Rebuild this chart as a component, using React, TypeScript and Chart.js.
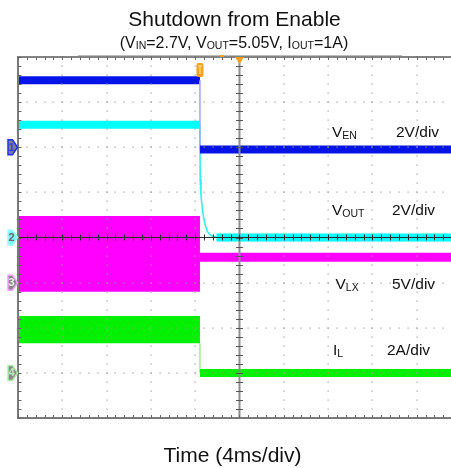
import { useEffect, useRef } from "react";
import { Chart, registerables } from "chart.js";

Chart.register(...registerables);

// ---- Axis settings (time in ms, 4 ms/div; vertical in divisions) ----
const T_START = -20;
const T_VIEW_END = 19.1;
const MS_PER_DIV = 4;
const X_DIVS = 10;
const Y_DIVS_HALF = 4;
const TRIGGER_MS = -3.57;

// channel ground offsets (div) and scales (units/div)
const CH_OFFSET = [2, 0, -1, -3];
const CH_SCALE = [2, 2, 5, 2];
const CH_NAMES = ["EN", "OUT", "LX", "L"];
const CH_SCALE_LABELS = ["2V/div", "2V/div", "5V/div", "2A/div"];

// ---- Channel 1: V_EN (V) ----
const venTime = [-20, -3.57, -3.57, 20];
const venVolts = [2.97, 2.97, -0.1, -0.1];

// ---- Channel 2: V_OUT (V) ----
const voutTime = [-20, -3.57, -3.55, -3.48, -3.39, -3.28, -3.16, -3.03, -2.89, -2.71, -2.44, -2.08, 20];
const voutVolts = [5.0, 5.0, 2.6, 1.9, 1.45, 1.0, 0.7, 0.45, 0.27, 0.14, 0.05, 0.0, 0.0];

// ---- Channel 3: V_LX (V) ----
const vlxBandTime = [-20, -3.57];
const vlxPeak = [7.38, 7.38];
const vlxValley = [-1.02, -1.02];
const vlxAfterTime = [-3.57, 20];
const vlxAfter = [2.82, 2.82];

// ---- Channel 4: I_L (A) ----
const ilBandTime = [-20, -3.57];
const ilPeak = [2.52, 2.52];
const ilValley = [1.31, 1.31];
const ilAfterTime = [-3.57, -3.57, 20];
const ilAfter = [1.31, 0, 0];

const BLUE = "#0414e8";
const CYAN = "#00ffff";
const MAGENTA = "#ff00ff";
const GREEN = "#00f000";

function series(times: number[], values: number[], ch: number) {
  return times.map((t, i) => ({ x: t, y: CH_OFFSET[ch] + values[i] / CH_SCALE[ch] }));
}

function levelSegments(thick: number, color: string, thinColor: string) {
  return {
    borderWidth: (c: any) => (c.p0.parsed.y === c.p1.parsed.y ? thick : 1.6),
    borderColor: (c: any) => (c.p0.parsed.y === c.p1.parsed.y ? color : thinColor),
  };
}

function drawParts(
  ctx: CanvasRenderingContext2D,
  parts: [string, boolean][],
  x: number,
  baseline: number,
  mainSize: number,
  subSize: number,
  subDrop: number,
  align: "left" | "center"
) {
  const font = (s: number) => `${s}px "Liberation Sans", Arial, sans-serif`;
  let total = 0;
  for (const [t, sub] of parts) {
    ctx.font = font(sub ? subSize : mainSize);
    total += ctx.measureText(t).width;
  }
  let cx = align === "center" ? x - total / 2 : x;
  ctx.textAlign = "left";
  ctx.textBaseline = "alphabetic";
  for (const [t, sub] of parts) {
    ctx.font = font(sub ? subSize : mainSize);
    ctx.fillText(t, cx, baseline + (sub ? subDrop : 0));
    cx += ctx.measureText(t).width;
  }
}

const scopePlugin = {
  id: "scopeGraticule",
  afterDatasetsDraw(chart: any) {
    const { ctx, chartArea: a, scales } = chart;
    const xs = scales.x;
    const ys = scales.y;
    ctx.save();

    // dotted grid
    ctx.fillStyle = "#9c9c9c";
    for (let k = 1; k < X_DIVS; k++) {
      if (k === 5) continue;
      const px = Math.round(xs.getPixelForValue(T_START + k * MS_PER_DIV));
      for (let m = 0; m <= Y_DIVS_HALF * 10; m++) {
        const py = Math.round(ys.getPixelForValue(-Y_DIVS_HALF + m * 0.2));
        ctx.fillRect(px - 0.5, py - 0.5, 1.2, 1.2);
      }
    }
    for (let d = -3; d <= 3; d++) {
      if (d === 0) continue;
      const py = Math.round(ys.getPixelForValue(d));
      for (let m = 0; m <= X_DIVS * 5; m++) {
        const px = Math.round(xs.getPixelForValue(T_START + m * MS_PER_DIV * 0.2));
        ctx.fillRect(px - 0.5, py - 0.5, 1.2, 1.2);
      }
    }

    // center vertical axis
    const cx0 = xs.getPixelForValue(0);
    ctx.strokeStyle = "#8e8e8e";
    ctx.lineWidth = 2;
    ctx.beginPath();
    ctx.moveTo(cx0, a.top);
    ctx.lineTo(cx0, a.bottom);
    ctx.stroke();
    ctx.strokeStyle = "#555";
    ctx.lineWidth = 1;
    for (let m = 0; m <= Y_DIVS_HALF * 10; m++) {
      const py = Math.round(ys.getPixelForValue(-Y_DIVS_HALF + m * 0.2)) + 0.5;
      ctx.beginPath();
      ctx.moveTo(cx0 - 3.5, py);
      ctx.lineTo(cx0 + 3.5, py);
      ctx.stroke();
    }

    // center horizontal axis
    const cy0 = ys.getPixelForValue(0);
    ctx.strokeStyle = "#2a2a2a";
    ctx.lineWidth = 1.2;
    ctx.beginPath();
    ctx.moveTo(a.left, cy0);
    ctx.lineTo(a.right, cy0);
    ctx.stroke();
    ctx.lineWidth = 1;
    for (let m = 0; m <= X_DIVS * 5; m++) {
      const px = Math.round(xs.getPixelForValue(T_START + m * MS_PER_DIV * 0.2)) + 0.5;
      ctx.beginPath();
      ctx.moveTo(px, cy0 - 3);
      ctx.lineTo(px, cy0 + 3);
      ctx.stroke();
    }

    // borders
    ctx.strokeStyle = "#7a7a7a";
    ctx.lineWidth = 2;
    ctx.beginPath();
    ctx.moveTo(a.left, a.top);
    ctx.lineTo(a.left, a.bottom);
    ctx.moveTo(a.left - 1, a.bottom);
    ctx.lineTo(a.right, a.bottom);
    ctx.stroke();
    ctx.strokeStyle = "#5a5a5a";
    ctx.lineWidth = 1.5;
    ctx.beginPath();
    ctx.moveTo(a.left - 1, a.top);
    ctx.lineTo(a.right, a.top);
    ctx.stroke();
    ctx.strokeStyle = "#bdbdbd";
    ctx.lineWidth = 1;
    ctx.beginPath();
    ctx.moveTo(78, a.top - 1.5);
    ctx.lineTo(402, a.top - 1.5);
    ctx.stroke();

    // border ticks
    ctx.strokeStyle = "#666";
    ctx.lineWidth = 1;
    for (let m = 0; m <= Y_DIVS_HALF * 10; m++) {
      const py = Math.round(ys.getPixelForValue(-Y_DIVS_HALF + m * 0.2)) + 0.5;
      ctx.beginPath();
      ctx.moveTo(a.left, py);
      ctx.lineTo(a.left + 3.5, py);
      ctx.stroke();
    }
    for (let m = 0; m <= X_DIVS * 5; m++) {
      const px = Math.round(xs.getPixelForValue(T_START + m * MS_PER_DIV * 0.2)) + 0.5;
      ctx.beginPath();
      ctx.moveTo(px, a.top);
      ctx.lineTo(px, a.top + 3);
      ctx.moveTo(px, a.bottom);
      ctx.lineTo(px, a.bottom - 3);
      ctx.stroke();
    }

    // trigger markers
    const tx = xs.getPixelForValue(TRIGGER_MS);
    ctx.fillStyle = "#f6a21e";
    ctx.beginPath();
    ctx.moveTo(cx0 - 4.5, a.top);
    ctx.lineTo(cx0 + 4.5, a.top);
    ctx.lineTo(cx0, a.top + 7);
    ctx.closePath();
    ctx.fill();
    ctx.fillRect(220, a.top - 2, 4, 2);
    ctx.beginPath();
    (ctx as any).roundRect(tx - 3.5, a.top + 6, 7, 14, 2);
    ctx.fill();
    ctx.fillStyle = "#ffd890";
    ctx.fillRect(tx - 1.8, a.top + 8, 3.6, 1.5);
    ctx.fillRect(tx - 0.7, a.top + 8, 1.4, 9);

    // channel markers
    const markers = [
      { fill: "#7c7c96", stroke: "#2030ff", text: "#3040ff", label: "1" },
      { fill: "#7ff5f5", stroke: "#9ff", text: "#6a6a6a", label: "2" },
      { fill: "#888888", stroke: "#f8a0f8", text: "#eeeeee", label: "3" },
      { fill: "#8a8a8a", stroke: "#a8f0a8", text: "#b8f0b8", label: "4" },
    ];
    markers.forEach((mk, i) => {
      const py = ys.getPixelForValue(CH_OFFSET[i]);
      ctx.beginPath();
      ctx.moveTo(8, py - 7.5);
      ctx.lineTo(12.5, py - 7.5);
      ctx.lineTo(17.5, py);
      ctx.lineTo(12.5, py + 7.5);
      ctx.lineTo(8, py + 7.5);
      ctx.closePath();
      ctx.fillStyle = mk.fill;
      ctx.fill();
      ctx.strokeStyle = mk.stroke;
      ctx.lineWidth = 1.5;
      ctx.stroke();
      ctx.fillStyle = mk.text;
      ctx.font = 'bold 11px "Liberation Sans", Arial, sans-serif';
      ctx.textAlign = "center";
      ctx.textBaseline = "middle";
      ctx.fillText(mk.label, 11.5, py + 0.5);
    });

    // channel labels
    ctx.fillStyle = "#111";
    const labelPos = [
      { x: 332, y: 136.5, sx: 396, sy: 136.5 },
      { x: 332, y: 215, sx: 392, sy: 215 },
      { x: 335.5, y: 288.5, sx: 392, sy: 288.5 },
      { x: 333, y: 355, sx: 387, sy: 355 },
    ];
    labelPos.forEach((p, i) => {
      const main = i === 3 ? "I" : "V";
      drawParts(ctx, [[main, false], [CH_NAMES[i], true]], p.x, p.y, 15.5, 10.5, 2, "left");
      drawParts(ctx, [[CH_SCALE_LABELS[i], false]], p.sx, p.sy, 15.5, 10.5, 0, "left");
    });

    // titles
    ctx.fillStyle = "#111";
    drawParts(ctx, [["Shutdown from Enable", false]], 234.5, 26, 21, 21, 0, "center");
    drawParts(
      ctx,
      [
        ["(V", false],
        ["IN", true],
        ["=2.7V, V", false],
        ["OUT", true],
        ["=5.05V, I", false],
        ["OUT", true],
        ["=1A)", false],
      ],
      234,
      47.5,
      16,
      10.5,
      1,
      "center"
    );
    drawParts(ctx, [["Time (4ms/div)", false]], 232.5, 461.5, 21, 21, 0, "center");

    ctx.restore();
  },
};

export default function App() {
  const ref = useRef<HTMLCanvasElement>(null);

  useEffect(() => {
    const thin = { pointRadius: 0, tension: 0, clip: 0, borderCapStyle: "butt" as const };
    const chart = new Chart(ref.current!, {
      type: "line",
      data: {
        datasets: [
          {
            label: "VEN",
            data: series(venTime, venVolts, 0),
            borderColor: BLUE,
            borderWidth: 8,
            segment: levelSegments(8, BLUE, "#a8a8ff"),
            fill: false,
            ...thin,
          },
          {
            label: "VOUT",
            data: series(voutTime, voutVolts, 1),
            borderColor: CYAN,
            borderWidth: 8,
            segment: levelSegments(8, CYAN, "#30f0f0"),
            fill: false,
            ...thin,
          },
          {
            label: "VLX peak",
            data: series(vlxBandTime, vlxPeak, 2),
            borderColor: MAGENTA,
            borderWidth: 0,
            fill: false,
            ...thin,
          },
          {
            label: "VLX valley",
            data: series(vlxBandTime, vlxValley, 2),
            borderColor: MAGENTA,
            backgroundColor: MAGENTA,
            borderWidth: 0,
            fill: "-1",
            ...thin,
          },
          {
            label: "VLX",
            data: series(vlxAfterTime, vlxAfter, 2),
            borderColor: MAGENTA,
            borderWidth: 9,
            segment: levelSegments(9, MAGENTA, MAGENTA),
            fill: false,
            ...thin,
          },
          {
            label: "IL peak",
            data: series(ilBandTime, ilPeak, 3),
            borderColor: GREEN,
            borderWidth: 0,
            fill: false,
            ...thin,
          },
          {
            label: "IL valley",
            data: series(ilBandTime, ilValley, 3),
            borderColor: GREEN,
            backgroundColor: GREEN,
            borderWidth: 0,
            fill: "-1",
            ...thin,
          },
          {
            label: "IL",
            data: series(ilAfterTime, ilAfter, 3),
            borderColor: GREEN,
            borderWidth: 8,
            segment: levelSegments(8, GREEN, "#a0f0a0"),
            fill: false,
            ...thin,
          },
        ],
      },
      options: {
        animation: false,
        responsive: true,
        maintainAspectRatio: false,
        devicePixelRatio: 1,
        layout: { padding: { left: 18, top: 57, right: 0, bottom: 50 } },
        scales: {
          x: { type: "linear", min: T_START, max: T_VIEW_END, display: false },
          y: { type: "linear", min: -Y_DIVS_HALF, max: Y_DIVS_HALF, display: false },
        },
        plugins: {
          legend: { display: false },
          tooltip: { enabled: false },
          title: { display: false },
        },
        events: [],
      },
      plugins: [scopePlugin],
    });
    return () => chart.destroy();
  }, []);

  return (
    <div style={{ position: "absolute", left: 0, top: 0, width: 451, height: 468, background: "#fff" }}>
      <canvas ref={ref} />
    </div>
  );
}
